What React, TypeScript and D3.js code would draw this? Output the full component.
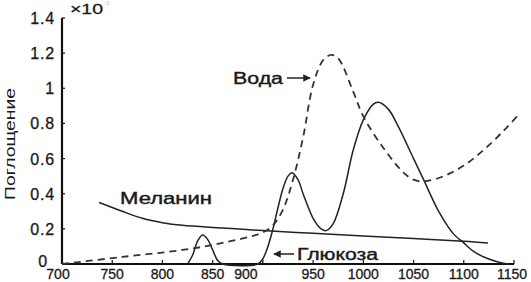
import * as d3 from "d3";

// wavelength, nm
const waterNm = [700, 760, 820, 860, 900, 910, 920, 930, 940, 950, 960, 968, 975, 990, 1000, 1020, 1040, 1050, 1060, 1080, 1100, 1120, 1140, 1153];
const waterVal = [0, 0.04, 0.08, 0.12, 0.18, 0.22, 0.31, 0.48, 0.72, 1.02, 1.16, 1.19, 1.17, 0.98, 0.84, 0.66, 0.52, 0.48, 0.47, 0.5, 0.56, 0.65, 0.76, 0.84];

const glucoseNm = [825, 830, 835, 840, 845, 850, 855, 860, 895, 900, 905, 910, 915, 920, 925, 929, 935, 940, 950, 958, 963, 970, 980, 990, 1000, 1010, 1015, 1025, 1035, 1050, 1060, 1075, 1090, 1100, 1110, 1120, 1135, 1145];
const glucoseVal = [0, 0.05, 0.13, 0.165, 0.14, 0.08, 0.02, 0, 0, 0.03, 0.1, 0.2, 0.32, 0.43, 0.5, 0.52, 0.48, 0.4, 0.26, 0.2, 0.19, 0.23, 0.4, 0.65, 0.82, 0.91, 0.92, 0.88, 0.78, 0.6, 0.48, 0.3, 0.17, 0.12, 0.07, 0.04, 0.01, 0];

const melaninNm = [737, 760, 780, 800, 820, 860, 900, 950, 1000, 1050, 1100, 1124];
const melaninVal = [0.35, 0.3, 0.26, 0.235, 0.22, 0.205, 0.19, 0.175, 0.16, 0.145, 0.13, 0.12];

const xTicks = [700, 750, 800, 850, 900, 950, 1000, 1050, 1100, 1150];
const yTicks = [0, 0.2, 0.4, 0.6, 0.8, 1, 1.2, 1.4];

const W = 531;
const H = 282;
const x = d3.scaleLinear().domain([700, 1150]).range([62, 514]);
const y = d3.scaleLinear().domain([0, 1.4]).range([264, 18]);

const line = d3
  .line<[number, number]>()
  .x((d) => x(d[0]))
  .y((d) => y(d[1]))
  .curve(d3.curveCatmullRom.alpha(0.5));

const zip = (a: number[], b: number[]) => a.map((v, i) => [v, b[i]] as [number, number]);

const font = "'Liberation Sans', Arial, sans-serif";
const ink = "#1a1a1a";

export default function App() {
  return (
    <svg width={W} height={H} style={{ position: "absolute", left: 0, top: 0, background: "#fff" }} fontFamily={font}>
      <defs>
        <marker id="ah" viewBox="0 0 10 10" refX="9" refY="5" markerWidth="6" markerHeight="5" orient="auto">
          <path d="M0,0 L10,5 L0,10 z" fill="#222" />
        </marker>
      </defs>

      {/* axes */}
      <line x1={x(700)} x2={x(1150)} y1={y(0)} y2={y(0)} stroke="#111" strokeWidth={2} />
      <line x1={x(700)} x2={x(700)} y1={y(0)} y2={y(1.4)} stroke="#111" strokeWidth={2.2} />
      {xTicks.map((t) => (
        <g key={t}>
          <line x1={x(t)} x2={x(t)} y1={y(0)} y2={y(0) - 4} stroke="#111" strokeWidth={1.2} />
          <text
            x={x(t) + (t === 700 ? -4 : t === 900 ? -17 : t === 1150 ? -2 : 0)}
            y={279}
            textAnchor="middle"
            fontSize={14}
            fill={ink}
            stroke={ink}
            strokeWidth={0.3}
          >
            {t}
          </text>
        </g>
      ))}
      {yTicks.map((t) => (
        <g key={t}>
          <line x1={x(700)} x2={x(700) + 3} y1={y(t)} y2={y(t)} stroke="#111" strokeWidth={1.2} />
          <text
            x={t === 0 ? 48 : 55}
            y={y(t) + (t === 0 ? 3 : 6)}
            textAnchor="end"
            fontSize={16}
            letterSpacing={0.8}
            fill={ink}
            stroke={ink}
            strokeWidth={0.3}
          >
            {d3.format("~g")(t)}
          </text>
        </g>
      ))}
      <text x={70} y={14} fontSize={15} fill={ink} stroke={ink} strokeWidth={0.3} textLength={33} lengthAdjust="spacingAndGlyphs">
        ×10
      </text>
      <text x={104} y={5} fontSize={6} fill="#bbb">
        -3
      </text>
      <text
        transform="translate(15,144) rotate(-90)"
        textAnchor="middle"
        fontSize={14}
        fill={ink}
        textLength={112}
        lengthAdjust="spacingAndGlyphs"
      >
        Поглощение
      </text>

      {/* curves */}
      <path d={line(zip(melaninNm, melaninVal)) || ""} fill="none" stroke="#222" strokeWidth={1.5} />
      <path d={line(zip(glucoseNm, glucoseVal)) || ""} fill="none" stroke="#222" strokeWidth={1.5} />
      <path d={line(zip(waterNm, waterVal)) || ""} fill="none" stroke="#333" strokeWidth={1.8} strokeDasharray="7,5" />

      {/* labels */}
      <text x={233} y={84} fontSize={16} fill={ink} stroke={ink} strokeWidth={0.4} textLength={50} lengthAdjust="spacingAndGlyphs">
        Вода
      </text>
      <line x1={287} x2={310} y1={78} y2={78} stroke="#222" strokeWidth={1.5} markerEnd="url(#ah)" />
      <text x={120} y={204} fontSize={16} fill={ink} stroke={ink} strokeWidth={0.4} textLength={92} lengthAdjust="spacingAndGlyphs">
        Меланин
      </text>
      <line x1={294} x2={274} y1={254} y2={254} stroke="#222" strokeWidth={1.5} markerEnd="url(#ah)" />
      <text x={297} y={260} fontSize={16} fill={ink} stroke={ink} strokeWidth={0.4} textLength={81} lengthAdjust="spacingAndGlyphs">
        Глюкоза
      </text>
    </svg>
  );
}
